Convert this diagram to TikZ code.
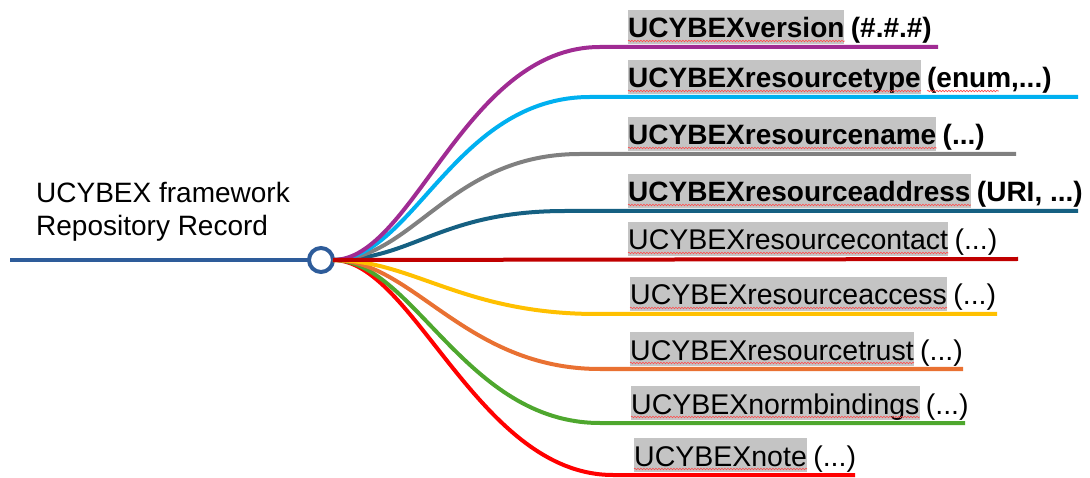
\documentclass[tikz,border=0pt]{standalone}
\usepackage{fontspec}
\setmainfont{Liberation Sans}
\usetikzlibrary{decorations.pathmorphing,calc}
\definecolor{hubblue}{HTML}{2E5C9A}
\definecolor{cpurple}{HTML}{A02B93}
\definecolor{ccyan}{HTML}{00B0F0}
\definecolor{cgray}{HTML}{808080}
\definecolor{cteal}{HTML}{156082}
\definecolor{cdarkred}{HTML}{C00000}
\definecolor{cyellow}{HTML}{FFC000}
\definecolor{corange}{HTML}{E97132}
\definecolor{cgreen}{HTML}{4EA72E}
\definecolor{cred}{HTML}{FF0000}
\definecolor{hlgray}{HTML}{C4C4C4}
\tikzset{
  branch/.style={line width=4pt},
  lblbox/.style={fill=hlgray, inner xsep=0pt, inner ysep=0pt, text height=28pt, text depth=6pt, anchor=base west, font=\fontsize{28.5}{32}\selectfont},
  lblboxb/.style={lblbox, font=\bfseries\fontsize{28}{32}\selectfont},
  lbltail/.style={inner sep=0pt, anchor=base west, font=\fontsize{28.5}{32}\selectfont},
  lbltailb/.style={lbltail, font=\bfseries\fontsize{28}{32}\selectfont},
  wavy/.style={draw=red!70, line width=0.6pt, decorate, decoration={snake, amplitude=0.8pt, segment length=3pt}}
}
\begin{document}
\begin{tikzpicture}[x=1pt,y=-1pt]
\useasboundingbox (0,0) rectangle (1090,478);

% title
\node[align=left, anchor=west, inner sep=0pt, font=\fontsize{28}{33}\selectfont] (title) at (36,212) {UCYBEX framework\\Repository Record};

% hub
\coordinate (start) at (10,260);
\node[circle, draw=hubblue, line width=4pt, minimum size=24pt, inner sep=0pt, outer sep=0pt, fill=white] (hubc) at (321,260) {};
\draw[branch, hubblue] (start) -- (hubc.west);
\coordinate (hub) at (hubc.east);

% branch end coordinates
\coordinate (s1) at (600,47);  \coordinate (e1) at (938,47);
\coordinate (s2) at (590,97);  \coordinate (e2) at (1078,97);
\coordinate (s3) at (580,154); \coordinate (e3) at (1016,154);
\coordinate (s4) at (565,211); \coordinate (e4) at (1078,211);
\coordinate (e5) at (1018,259);
\coordinate (s6) at (597,314); \coordinate (e6) at (997,314);
\coordinate (s7) at (600,369); \coordinate (e7) at (963,369);
\coordinate (s8) at (600,423); \coordinate (e8) at (965,423);
\coordinate (s9) at (613,475); \coordinate (e9) at (855,475);

% branches
\draw[branch, cred]    (hub) .. controls +(80,0) and +(-135,0) .. (s9) -- (e9);
\draw[branch, cgreen]  (hub) .. controls +(80,0) and +(-135,0) .. (s8) -- (e8);
\draw[branch, corange] (hub) .. controls +(80,0) and +(-135,0) .. (s7) -- (e7);
\draw[branch, cyellow] (hub) .. controls +(80,0) and +(-135,0) .. (s6) -- (e6);
\draw[branch, cteal]   (hub) .. controls +(80,0) and +(-125,0) .. (s4) -- (e4);
\draw[branch, cgray]   (hub) .. controls +(80,0) and +(-130,0) .. (s3) -- (e3);
\draw[branch, ccyan]   (hub) .. controls +(80,0) and +(-135,0) .. (s2) -- (e2);
\draw[branch, cpurple] (hub) .. controls +(80,0) and +(-135,0) .. (s1) -- (e1);
\draw[branch, cdarkred] (hub) -- (e5);

% labels
\node[lblboxb] (l1) at (628,38) {UCYBEXversion};
\node[lbltailb] (t1) at ($(l1.base east)+(6,0)$) {(\#.\#.\#)};
\node[lblboxb] (l2) at (628,88) {UCYBEXresourcetype};
\node[lbltailb] (t2) at ($(l2.base east)+(6,0)$) {(enum,...)};
\node[lblboxb] (l3) at (628,145) {UCYBEXresourcename};
\node[lbltailb] (t3) at ($(l3.base east)+(6,0)$) {(...)};
\node[lblboxb] (l4) at (628,202) {UCYBEXresourceaddress};
\node[lbltailb] (t4) at ($(l4.base east)+(6,0)$) {(URI, ...)};
\node[lblbox] (l5) at (628,250) {UCYBEXresourcecontact};
\node[lbltail] (t5) at ($(l5.base east)+(6,0)$) {(...)};
\node[lblbox] (l6) at (630,305) {UCYBEXresourceaccess};
\node[lbltail] (t6) at ($(l6.base east)+(6,0)$) {(...)};
\node[lblbox] (l7) at (630,360) {UCYBEXresourcetrust};
\node[lbltail] (t7) at ($(l7.base east)+(6,0)$) {(...)};
\node[lblbox] (l8) at (631,414) {UCYBEXnormbindings};
\node[lbltail] (t8) at ($(l8.base east)+(6,0)$) {(...)};
\node[lblbox] (l9) at (634,466) {UCYBEXnote};
\node[lbltail] (t9) at ($(l9.base east)+(6,0)$) {(...)};

% spelling underlines
\foreach \n in {1,...,9}{
  \draw[wavy] ($(l\n.base west)+(0,3)$) -- ($(l\n.base east)+(0,3)$);
}
\draw[wavy] ($(t2.base west)+(0,3)$) -- ($(t2.base west)+(72,3)$);
\end{tikzpicture}
\end{document}
